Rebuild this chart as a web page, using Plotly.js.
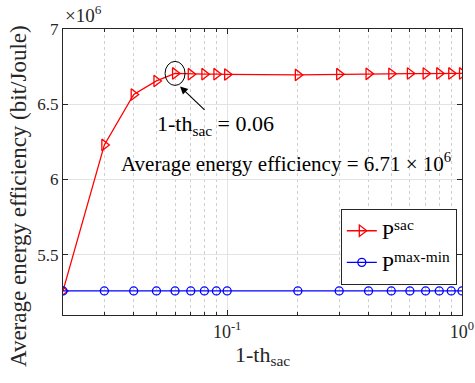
<!DOCTYPE html>
<html>
<head>
<meta charset="utf-8">
<script src="https://cdn.plot.ly/plotly-3.0.1.min.js"></script>
<style>html,body{margin:0;padding:0;background:#fff;}#chart{width:475px;height:383px;}</style>
</head>
<body>
<div id="chart"></div>
<script>
// Data (energy efficiency in units of 10^6 bit/Joule)
var xThreshold = [0.02, 0.03, 0.04, 0.05, 0.06, 0.07, 0.08, 0.09, 0.1, 0.2, 0.3, 0.4, 0.5, 0.6, 0.7, 0.8, 0.9, 1.0];
var pSac = [5.26, 6.23, 6.565, 6.655, 6.705, 6.70, 6.70, 6.70, 6.698, 6.695, 6.70, 6.702, 6.703, 6.704, 6.704, 6.705, 6.705, 6.705];
var pMaxMin = [5.26, 5.26, 5.26, 5.26, 5.26, 5.26, 5.26, 5.26, 5.26, 5.26, 5.26, 5.26, 5.26, 5.26, 5.26, 5.26, 5.26, 5.26];
var seriesNames = ['P<sup>sac</sup>', 'P<sup>max-min</sup>'];
var xTickVals = [0.1, 1];
var xTickText = ['10<sup>-1</sup>', '10<sup>0</sup>'];
var xMinorVals = [0.02, 0.03, 0.04, 0.05, 0.06, 0.07, 0.08, 0.09, 0.2, 0.3, 0.4, 0.5, 0.6, 0.7, 0.8, 0.9];
var yTickVals = [5.5, 6, 6.5, 7];
var xRange = [0.02, 1];
var yRange = [5.1, 7];
var highlightIndex = 4;

var FONT = '"Liberation Serif", "Times New Roman", Times, serif';

var traces = [
  {
    x: xThreshold, y: pSac, name: seriesNames[0], type: 'scatter', mode: 'lines+markers',
    line: {color: '#ff0000', width: 1.3},
    marker: {symbol: 'triangle-right-open', size: 10, color: '#ff0000', line: {width: 1.3}}
  },
  {
    x: xThreshold, y: pMaxMin, name: seriesNames[1], type: 'scatter', mode: 'lines+markers',
    line: {color: '#0000ff', width: 1.3},
    marker: {symbol: 'circle-open', size: 8, color: '#0000ff', line: {width: 1.3}}
  }
];

var lx0 = Math.log10(xRange[0]), lx1 = Math.log10(xRange[1]);
function xPaper(v){ return (Math.log10(v) - lx0) / (lx1 - lx0); }
function yPaper(v){ return (v - yRange[0]) / (yRange[1] - yRange[0]); }
var hx = xPaper(xThreshold[highlightIndex]);
var hy = yPaper(pSac[highlightIndex]);
var plotW = 399, plotH = 286;

var layout = {
  width: 475, height: 383,
  margin: {l: 63, r: 13, t: 29, b: 68},
  paper_bgcolor: '#fff', plot_bgcolor: '#fff',
  font: {family: FONT, size: 17, color: '#262626'},
  showlegend: true,
  legend: {
    x: 0.987, y: 0.105, xanchor: 'right', yanchor: 'bottom',
    bgcolor: '#fff', bordercolor: '#262626', borderwidth: 1,
    font: {family: FONT, size: 22, color: '#000'},
    tracegroupgap: 0, itemwidth: 30
  },
  xaxis: {
    type: 'log', range: [lx0, lx1],
    tickmode: 'array', tickvals: xTickVals, ticktext: xTickText,
    ticks: 'inside', ticklen: 5, tickcolor: '#262626',
    showgrid: true, gridcolor: '#e3e3e3', gridwidth: 1,
    showline: true, linecolor: '#262626', linewidth: 1, mirror: 'ticks',
    zeroline: false,
    tickfont: {family: FONT, size: 18, color: '#262626'},
    minor: {tickmode: 'array', tickvals: xMinorVals, ticks: 'inside', ticklen: 3, tickcolor: '#262626',
            showgrid: true, gridcolor: '#d0d0d0', griddash: 'dot', gridwidth: 1},
    title: {text: '1-th<sub>sac</sub>', font: {family: FONT, size: 22, color: '#262626'}, standoff: 5}
  },
  yaxis: {
    range: yRange, tickmode: 'array', tickvals: yTickVals,
    ticks: 'inside', ticklen: 5, tickcolor: '#262626',
    showgrid: true, gridcolor: '#e3e3e3', gridwidth: 1,
    showline: true, linecolor: '#262626', linewidth: 1, mirror: 'ticks',
    zeroline: false,
    tickfont: {family: FONT, size: 17, color: '#262626'}
  },
  shapes: [
    {type: 'circle', xref: 'paper', yref: 'paper',
     x0: hx - 10/plotW, x1: hx + 10/plotW, y0: hy - 12/plotH, y1: hy + 12/plotH,
     line: {color: '#000', width: 1}}
  ],
  annotations: [
    {xref: 'paper', yref: 'paper', x: (18 - 63)/plotW, y: (315 - 196)/plotH, xanchor: 'center', yanchor: 'middle',
     textangle: -90, text: 'Average energy efficiency (bit/Joule)', showarrow: false,
     font: {family: FONT, size: 23, color: '#262626'}},
    {xref: 'paper', yref: 'paper', x: 0, y: 1, xanchor: 'left', yanchor: 'bottom', yshift: 1,
     text: '\u00d710<sup>6</sup>', showarrow: false, font: {family: FONT, size: 19, color: '#262626'}},
    {xref: 'paper', yref: 'paper', x: hx + 5/plotW, y: hy - 13/plotH, text: '',
     showarrow: true, arrowhead: 2, arrowsize: 1.4, arrowwidth: 1.1, arrowcolor: '#000',
     ax: 26, ay: 25, axref: 'pixel', ayref: 'pixel'},
    {xref: 'paper', yref: 'paper', x: xPaper(0.0895), y: yPaper(6.36), xanchor: 'center', yanchor: 'middle',
     text: '1-th<sub>sac</sub> = 0.06', showarrow: false, font: {family: FONT, size: 22, color: '#000'}},
    {xref: 'paper', yref: 'paper', x: xPaper(0.178), y: yPaper(6.11), xanchor: 'center', yanchor: 'middle',
     text: 'Average energy efficiency = 6.71 \u00d7 10<sup>6</sup>', showarrow: false, font: {family: FONT, size: 21, color: '#000'}}
  ]
};

Plotly.newPlot('chart', traces, layout, {displayModeBar: false, staticPlot: true});
</script>
</body>
</html>
